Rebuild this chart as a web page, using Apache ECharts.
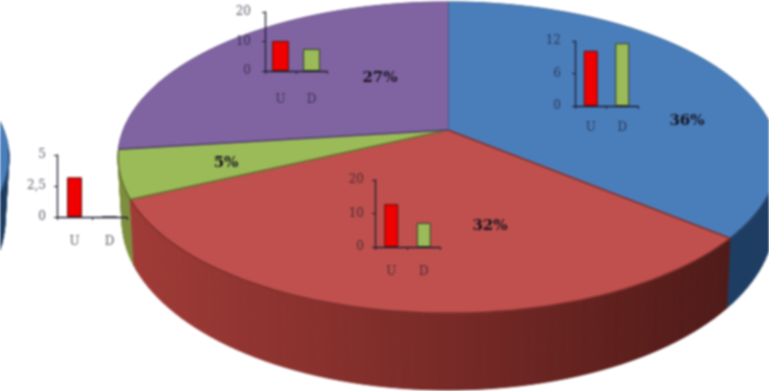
<!DOCTYPE html>
<html>
<head>
<meta charset="utf-8">
<script src="https://cdn.jsdelivr.net/npm/echarts@6/dist/echarts.min.js"></script>
<style>
  html, body { margin: 0; padding: 0; background: #fff; overflow: hidden; }
  #main { width: 769px; height: 391px; filter: blur(1px); }
</style>
</head>
<body>
<div id="main"></div>
<script>
// pie shares, clockwise from the top
var sliceNames = ['36%', '32%', '5%', '27%'];
var sliceShares = [36, 32, 5, 27];

// small bar charts
var barCategories = ['U', 'D'];
var leftBars = [3.2, 0];
var purpleBars = [10.2, 7.5];
var blueBars = [10.2, 11.6];
var redBars = [12.8, 7.2];
var leftTicks = [0, 2.5, 5];
var purpleTicks = [0, 10, 20];
var blueTicks = [0, 6, 12];
var redTicks = [0, 10, 20];

// layout only
var insets = [
  { values: leftBars, ticks: leftTicks, left: 57, top: 155, width: 70, height: 62, barWidth: 15, xMargin: 19, yMargin: 11 },
  { values: purpleBars, ticks: purpleTicks, left: 265, top: 12, width: 62, height: 59, barWidth: 17, xMargin: 23, yMargin: 14 },
  { values: blueBars, ticks: blueTicks, left: 575, top: 41, width: 63, height: 65, barWidth: 14, xMargin: 16, yMargin: 14 },
  { values: redBars, ticks: redTicks, left: 375, top: 180, width: 65, height: 67, barWidth: 14, xMargin: 19, yMargin: 11 }
];
var labelSpots = [[687, 121], [490, 226], [226, 163], [380, 78]];
var topColors = ['#4a7ebb', '#c0504d', '#9bbb59', '#8064a2'];
var spokeColors = ['#2a4a70', '#7c2f2c', '#5f6f2c', '#4d3c66'];
var wallColors = [
  '#1e3d63',
  { type: 'linear', x: 130, y: 0, x2: 735, y2: 0, global: true,
    colorStops: [{ offset: 0, color: '#a03b37' }, { offset: 0.5, color: '#7a2b28' }, { offset: 0.85, color: '#5b1f1c' }, { offset: 1, color: '#4e1b19' }] },
  '#7d8f3e',
  '#4b3a63'
];
var wallOrder = [3, 2, 0, 1];
var wrapWidth = 769;    // the right edge of the pie comes back in at the left
var apex = [448, 130];
var tilt = 0.177;

// a point of the disc seen in perspective, the lower ring is a little narrower
function onRing(share, ring) {
  var a = share / 100 * Math.PI * 2;
  var u = Math.sin(a), v = Math.cos(a);
  var w = 1 + tilt * v;
  return [apex[0] + ring.a * u / w, ring.y - ring.b * v / w];
}
var topRing = { a: 324.7, b: 150.7, y: apex[1] };
var baseRing = { a: 320.9, b: 164.7, y: 189.9 };

function ringPoints(from, to, ring) {
  var pts = [];
  var n = Math.max(2, Math.ceil((to - from) * 2));
  for (var i = 0; i <= n; i++) {
    pts.push(onRing(from + (to - from) * i / n, ring));
  }
  return pts;
}

function shifted(pts, dx) {
  return pts.map(function (p) { return [p[0] + dx, p[1]]; });
}

var starts = [];
var total = 0;
sliceShares.forEach(function (s) { starts.push(total); total += s; });
var sliceData = sliceShares.map(function (s, i) { return [starts[i], starts[i] + s, i]; });
var wallData = wallOrder.map(function (i) { return sliceData[i]; });

function renderWall(params, api) {
  var rim = ringPoints(api.value(0), api.value(1), topRing);
  var base = ringPoints(api.value(0), api.value(1), baseRing);
  var color = wallColors[api.value(2)];
  var parts = [];
  // one quad per rim step, so the silhouette closes where the rim turns back
  [0, -wrapWidth].forEach(function (dx) {
    for (var i = 0; i < rim.length - 1; i++) {
      parts.push({
        type: 'polygon',
        shape: { points: shifted([rim[i], rim[i + 1], base[i + 1], base[i]], dx) },
        style: { fill: color, stroke: color, lineWidth: 1 }
      });
    }
  });
  return { type: 'group', children: parts };
}

function renderTop(params, api) {
  var from = api.value(0), to = api.value(1);
  var idx = api.value(2);
  var rim = ringPoints(from, to, topRing);
  var parts = [];
  // dark line only where the rim runs over the wall
  var frontFrom = Math.max(from, 27), frontTo = Math.min(to, 73);
  [0, -wrapWidth].forEach(function (dx) {
    parts.push({
      type: 'polygon',
      shape: { points: shifted([apex].concat(rim), dx) },
      style: { fill: topColors[idx], stroke: topColors[idx], lineWidth: 0.5 }
    });
    parts.push({
      type: 'polyline',
      shape: { points: shifted([rim[0], apex], dx) },
      style: { fill: null, stroke: spokeColors[idx], lineWidth: 1.5 }
    });
    if (frontTo > frontFrom) {
      parts.push({
        type: 'polyline',
        shape: { points: shifted(ringPoints(frontFrom, frontTo, topRing), dx) },
        style: { fill: null, stroke: spokeColors[idx], lineWidth: 1.5 }
      });
    }
  });
  parts.push({
    type: 'text',
    style: {
      text: sliceNames[idx],
      x: labelSpots[idx][0],
      y: labelSpots[idx][1],
      align: 'center',
      verticalAlign: 'middle',
      fill: '#12121c',
      font: 'bold 15px "DejaVu Serif"'
    }
  });
  return { type: 'group', children: parts };
}

var axisColor = '#1c1c30';
var labelColor = 'rgba(30,30,50,.75)';
var grids = [], xAxes = [], yAxes = [];
var series = [
  { type: 'custom', coordinateSystem: 'none', z: 1, silent: true, renderItem: renderWall, data: wallData, animation: false },
  { type: 'custom', coordinateSystem: 'none', z: 2, silent: true, renderItem: renderTop, data: sliceData, animation: false }
];

insets.forEach(function (item, i) {
  grids.push({ left: item.left, top: item.top, width: item.width, height: item.height, containLabel: false });
  xAxes.push({
    type: 'category',
    gridIndex: i,
    data: barCategories,
    z: 6,
    axisLine: { lineStyle: { color: axisColor, width: 1.3 } },
    axisTick: { show: true, length: 3, lineStyle: { color: axisColor } },
    axisLabel: { color: labelColor, fontFamily: 'DejaVu Serif', fontSize: 12, margin: item.xMargin }
  });
  yAxes.push({
    type: 'value',
    gridIndex: i,
    min: item.ticks[0],
    max: item.ticks[item.ticks.length - 1],
    interval: item.ticks[1],
    z: 6,
    splitLine: { show: false },
    axisLine: { show: true, lineStyle: { color: axisColor, width: 1.3 } },
    axisTick: { show: true, length: 3, lineStyle: { color: axisColor } },
    axisLabel: {
      color: labelColor,
      fontFamily: 'DejaVu Serif',
      fontSize: 12,
      margin: item.yMargin,
      formatter: function (v) { return String(v).replace('.', ','); }
    }
  });
  series.push({
    type: 'bar',
    xAxisIndex: i,
    yAxisIndex: i,
    z: 5,
    barWidth: item.barWidth,
    animation: false,
    data: [
      { value: item.values[0], itemStyle: { color: '#f00000', borderColor: '#5a1010', borderWidth: 1 } },
      { value: item.values[1], itemStyle: { color: '#9bbb59', borderColor: '#2f3a20', borderWidth: 1 } }
    ]
  });
});

var chart = echarts.init(document.getElementById('main'));
chart.setOption({
  backgroundColor: '#fff',
  animation: false,
  grid: grids,
  xAxis: xAxes,
  yAxis: yAxes,
  series: series
});
</script>
</body>
</html>
